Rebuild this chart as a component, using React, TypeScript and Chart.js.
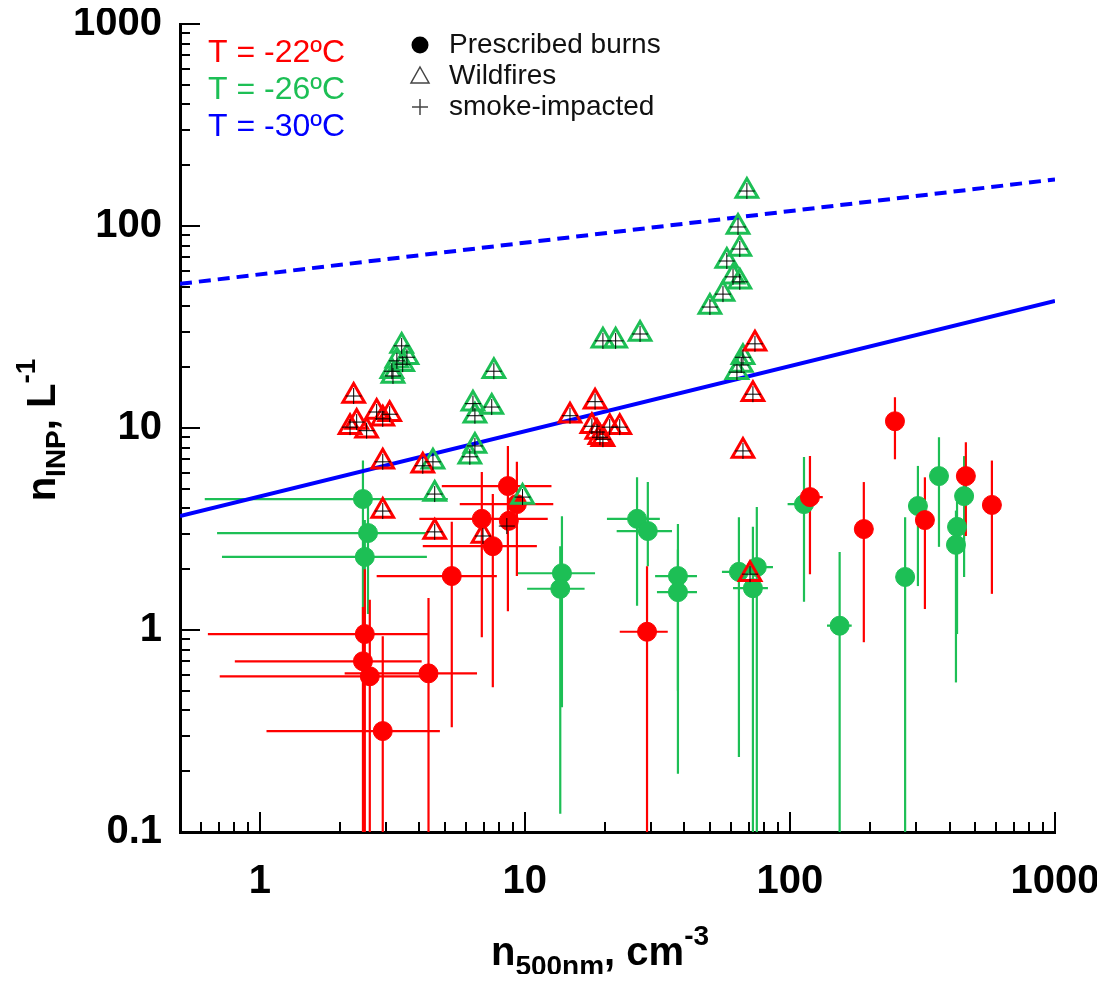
import { useEffect, useRef } from "react";
import { Chart, registerables } from "chart.js";

Chart.register(...registerables);

const FONT = "'Liberation Sans', Arial, Helvetica, sans-serif";
const RED = "#ff0000";
const GREEN = "#1dbf55";
const BLUE = "#0000ff";

// Prescribed burns: [n500nm, nINP, xLow, xHigh, yLow, yHigh] (null = no bar)
const burns22 = [
  [8.63, 5.16, 4.86, 12.6, 1.24, 8.15],
  [9.33, 4.2, 5.68, 12.8, 1.85, 6.8],
  [6.88, 3.55, 4.0, 12.2, 0.92, 6.05],
  [8.7, 3.47, null, null, null, null],
  [7.57, 2.6, 4.12, 11.1, 0.52, 4.71],
  [5.3, 1.85, 2.76, 7.84, 0.33, 3.43],
  [2.49, 0.955, 0.637, 4.34, 0.01, 2.0],
  [2.45, 0.7, 0.805, 4.08, 0.01, 1.3],
  [2.6, 0.59, 0.706, 4.3, 0.01, 1.41],
  [4.33, 0.61, 2.09, 6.6, 0.01, 1.44],
  [2.91, 0.316, 1.06, 4.78, 0.01, 0.93],
  [28.9, 0.98, 22.8, 34.6, 0.01, 2.07],
  [119, 4.55, 109, 133, 1.89, 7.26],
  [249, 10.8, null, null, 7.0, 14.2],
  [190, 3.16, null, null, 0.87, 5.4],
  [323, 3.5, null, null, 1.27, 5.7],
  [461, 5.78, null, null, 2.92, 8.5],
  [578, 4.16, null, null, 1.51, 6.9],
];

const burns26 = [
  [2.45, 4.45, 0.62, 5.12, 1.0, 6.9],
  [2.56, 3.02, 0.69, 4.27, 1.2, 4.5],
  [2.49, 2.3, 0.72, 4.27, 0.95, 3.5],
  [13.8, 1.91, 9.33, 18.4, 0.415, 3.66],
  [13.6, 1.6, 10.2, 16.8, 0.123, 2.6],
  [26.5, 3.55, 20.4, 32.3, 1.32, 5.7],
  [29.1, 3.09, 22.2, 35.9, 2.07, 5.4],
  [37.8, 1.85, 31, 44.6, 0.5, 3.35],
  [37.8, 1.54, 31.5, 44.6, 0.194, 2.5],
  [64.2, 1.94, 55.4, 75, 0.235, 3.62],
  [75, 2.05, 70.7, 86.3, 0.01, 4.06],
  [72.5, 1.61, 61, 82.6, 0.01, 3.24],
  [113, 4.2, 98, 122, 1.38, 7.18],
  [154, 1.05, 138, 171, 0.01, 2.43],
  [272, 1.83, null, null, 0.01, 3.62],
  [304, 4.11, null, null, 1.65, 6.49],
  [365, 5.78, null, null, 2.58, 9.0],
  [427, 3.24, null, null, 0.955, 4.82],
  [423, 2.64, null, null, 0.55, 3.9],
  [454, 4.6, null, null, 1.83, 7.26],
];

// Wildfires (all smoke-impacted): [n500nm, nINP]
const fires22 = [
  [2.26, 14.4], [2.19, 10.1], [2.32, 10.7], [2.53, 9.7], [2.76, 12.0],
  [2.91, 11.1], [3.09, 11.7], [2.91, 6.8], [4.12, 6.5], [2.91, 3.88],
  [4.57, 3.06], [14.8, 11.5], [18.4, 13.5], [17.9, 10.2], [18.7, 9.55],
  [19.7, 8.8], [19.2, 9.0], [20.9, 10.1], [22.8, 10.1], [73.8, 26.1],
  [72.5, 14.7], [66.5, 7.7], [70.7, 1.89], [6.95, 2.92],
];

const fires26 = [
  [3.43, 25.5], [3.29, 21.5], [3.59, 22.4], [3.15, 19.1], [3.46, 20.7],
  [3.18, 18.1], [7.64, 19.1], [6.37, 13.2], [6.48, 11.5], [7.5, 12.7],
  [6.48, 8.15], [6.2, 7.2], [19.7, 27.0], [22.0, 27.0], [27.2, 29.2],
  [68.8, 149], [63.7, 98.9], [64.7, 76.9], [57.8, 67.1], [61, 56],
  [64.7, 52.9], [55.9, 46], [49.9, 39.7], [66.5, 22.4], [65.5, 20.5],
  [63.1, 18.9], [4.5, 6.8], [4.57, 4.71], [9.8, 4.55],
];

// Smoke-impacted prescribed burn sample
const smokeBurns = [[8.55, 3.27]];

// Fitted lines for T = -30 ºC
const fitX = [0.5, 1000];
const fitSolid = [3.67, 42.5];
const fitDashed = [51.7, 170];

const xTicks = [1, 10, 100, 1000];
const yTicks = [0.1, 1, 10, 100, 1000];

const toPoints = (rows) => rows.map((r) => ({ x: r[0], y: r[1] }));

function drawRich(ctx, pieces, x, y) {
  const widths = pieces.map((p) => {
    ctx.font = `bold ${p.size}px ${FONT}`;
    return ctx.measureText(p.text).width;
  });
  const total = widths.reduce((a, b) => a + b, 0);
  let cx = x - total / 2;
  pieces.forEach((p, i) => {
    ctx.font = `bold ${p.size}px ${FONT}`;
    ctx.fillText(p.text, cx, y + (p.dy || 0));
    cx += widths[i];
  });
}

const errorBars = {
  id: "errorBars",
  beforeDatasetsDraw(chart) {
    const { ctx, chartArea, scales } = chart;
    const xs = scales.x;
    const ys = scales.y;
    ctx.save();
    ctx.beginPath();
    ctx.rect(chartArea.left, chartArea.top, chartArea.right - chartArea.left, chartArea.bottom - chartArea.top);
    ctx.clip();
    ctx.lineWidth = 2.2;
    const groups = [
      [burns26, GREEN],
      [burns22, RED],
    ];
    for (const [rows, color] of groups) {
      ctx.strokeStyle = color;
      for (const [x, y, xl, xh, yl, yh] of rows) {
        const px = xs.getPixelForValue(x);
        const py = ys.getPixelForValue(y);
        ctx.beginPath();
        if (xl != null && xh != null) {
          ctx.moveTo(xs.getPixelForValue(xl), py);
          ctx.lineTo(xs.getPixelForValue(xh), py);
        }
        if (yl != null && yh != null) {
          ctx.moveTo(px, ys.getPixelForValue(yl));
          ctx.lineTo(px, ys.getPixelForValue(yh));
        }
        ctx.stroke();
      }
    }
    ctx.restore();
  },
};

// Inward log tick marks: long at decades, short at 2..9
const innerTicks = {
  id: "innerTicks",
  afterDraw(chart) {
    const { ctx, chartArea, scales } = chart;
    ctx.save();
    ctx.strokeStyle = "#000";
    ctx.lineWidth = 2;
    ctx.beginPath();
    for (let d = 0.1; d <= 1000; d *= 10) {
      for (let m = 1; m <= 9; m++) {
        const v = Math.round(m * d * 1000) / 1000;
        const len = m === 1 ? 20 : 10;
        if (v >= 0.5 && v <= 1000) {
          const px = Math.round(scales.x.getPixelForValue(v));
          ctx.moveTo(px, chartArea.bottom);
          ctx.lineTo(px, chartArea.bottom - len);
        }
        if (v >= 0.1 && v <= 1000) {
          const py = Math.round(scales.y.getPixelForValue(v));
          ctx.moveTo(chartArea.left, py);
          ctx.lineTo(chartArea.left + len, py);
        }
      }
    }
    ctx.stroke();
    ctx.restore();
  },
};

const annotations = {
  id: "annotations",
  afterDraw(chart) {
    const { ctx } = chart;
    ctx.save();
    ctx.fillStyle = "#000";
    ctx.textBaseline = "alphabetic";
    ctx.textAlign = "left";
    // x axis title
    drawRich(
      ctx,
      [
        { text: "n", size: 40 },
        { text: "500nm", size: 28, dy: 10 },
        { text: ", cm", size: 40 },
        { text: "-3", size: 28, dy: -20 },
      ],
      592,
      957
    );
    // y axis title
    ctx.save();
    ctx.translate(47, 422);
    ctx.rotate(-Math.PI / 2);
    drawRich(
      ctx,
      [
        { text: "n", size: 40 },
        { text: "INP", size: 28, dy: 10 },
        { text: ", L", size: 40 },
        { text: "-1", size: 28, dy: -20 },
      ],
      0,
      0
    );
    ctx.restore();

    // temperature labels
    ctx.textBaseline = "middle";
    ctx.font = `32px ${FONT}`;
    const temps = [
      ["T = -22ºC", RED, 45],
      ["T = -26ºC", GREEN, 82],
      ["T = -30ºC", BLUE, 119],
    ];
    for (const [t, c, y] of temps) {
      ctx.fillStyle = c;
      ctx.fillText(t, 200, y);
    }

    // marker legend
    ctx.fillStyle = "#111";
    ctx.font = `28px ${FONT}`;
    ctx.fillText("Prescribed burns", 441, 37);
    ctx.fillText("Wildfires", 441, 68);
    ctx.fillText("smoke-impacted", 441, 99);
    ctx.beginPath();
    ctx.arc(412, 37, 8.5, 0, Math.PI * 2);
    ctx.fillStyle = "#000";
    ctx.fill();
    ctx.strokeStyle = "#444";
    ctx.lineWidth = 1.5;
    ctx.beginPath();
    ctx.moveTo(412, 59);
    ctx.lineTo(421, 75);
    ctx.lineTo(403, 75);
    ctx.closePath();
    ctx.stroke();
    ctx.beginPath();
    ctx.moveTo(404, 99);
    ctx.lineTo(420, 99);
    ctx.moveTo(412, 91);
    ctx.lineTo(412, 107);
    ctx.stroke();
    ctx.restore();
  },
};

export default function App() {
  const canvasRef = useRef(null);

  useEffect(() => {
    const tickFont = { family: FONT, size: 40, weight: "bold" };
    const chart = new Chart(canvasRef.current, {
      type: "scatter",
      data: {
        datasets: [
          {
            type: "line",
            data: fitX.map((x, i) => ({ x, y: fitSolid[i] })),
            borderColor: BLUE,
            borderWidth: 4,
            pointRadius: 0,
            order: 6,
          },
          {
            type: "line",
            data: fitX.map((x, i) => ({ x, y: fitDashed[i] })),
            borderColor: BLUE,
            borderWidth: 4,
            borderDash: [12, 7],
            pointRadius: 0,
            order: 5,
          },
          {
            data: toPoints(burns26),
            pointStyle: "circle",
            pointRadius: 9.5,
            backgroundColor: GREEN,
            borderColor: GREEN,
            borderWidth: 1,
            order: 4,
          },
          {
            data: toPoints(burns22),
            pointStyle: "circle",
            pointRadius: 9.5,
            backgroundColor: RED,
            borderColor: RED,
            borderWidth: 1,
            order: 3,
          },
          {
            data: toPoints(fires26),
            pointStyle: "triangle",
            pointRadius: 12.5,
            backgroundColor: "rgba(0,0,0,0)",
            borderColor: GREEN,
            borderWidth: 3,
            order: 2,
          },
          {
            data: toPoints(fires22),
            pointStyle: "triangle",
            pointRadius: 12.5,
            backgroundColor: "rgba(0,0,0,0)",
            borderColor: RED,
            borderWidth: 3,
            order: 1,
          },
          {
            data: toPoints([...fires22, ...fires26, ...smokeBurns]),
            pointStyle: "cross",
            pointRadius: 8,
            borderColor: "#000",
            borderWidth: 1,
            order: 0,
          },
        ],
      },
      options: {
        responsive: false,
        animation: false,
        events: [],
        layout: { padding: { left: 0, right: 42, top: 16, bottom: 0 } },
        plugins: { legend: { display: false }, tooltip: { enabled: false } },
        scales: {
          x: {
            type: "logarithmic",
            min: 0.5,
            max: 1000,
            afterBuildTicks: (s) => {
              s.ticks = xTicks.map((v) => ({ value: v }));
            },
            afterFit: (s) => {
              s.height = 142;
              s.paddingLeft = 0;
              s.paddingRight = 0;
            },
            grid: { display: false, drawTicks: false },
            border: { display: true, color: "#000", width: 3 },
            ticks: {
              font: tickFont,
              color: "#000",
              padding: 26,
              autoSkip: false,
              maxRotation: 0,
              callback: (v) => String(v),
            },
          },
          y: {
            type: "logarithmic",
            min: 0.1,
            max: 1000,
            afterBuildTicks: (s) => {
              s.ticks = yTicks.map((v) => ({ value: v }));
            },
            afterFit: (s) => {
              s.width = 172;
              s.paddingTop = 0;
              s.paddingBottom = 0;
            },
            grid: { display: false, drawTicks: false },
            border: { display: true, color: "#000", width: 3 },
            ticks: {
              font: tickFont,
              color: "#000",
              padding: 18,
              autoSkip: false,
              callback: (v) => String(v),
            },
          },
        },
      },
      plugins: [errorBars, innerTicks, annotations],
    });
    return () => chart.destroy();
  }, []);

  return <canvas ref={canvasRef} width={1089} height={966} style={{ display: "block" }} />;
}
